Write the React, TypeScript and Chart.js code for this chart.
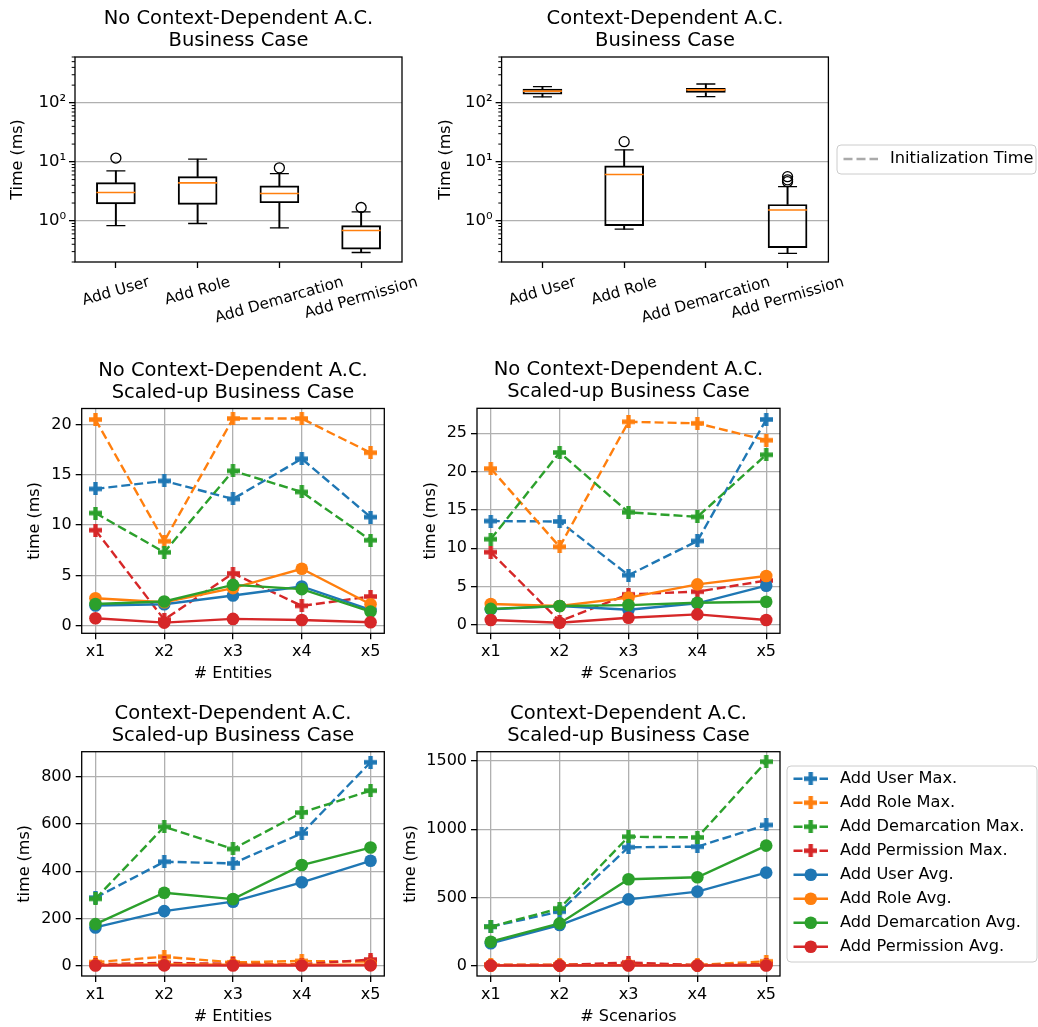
import React, { useEffect, useRef } from 'react';
import { Chart, registerables } from 'chart.js';

Chart.register(...registerables);

const FAM = '"DejaVu Sans", sans-serif';
Chart.defaults.font.family = FAM;
Chart.defaults.font.size = 16;
Chart.defaults.color = '#000';

const BLUE = '#1f77b4';
const ORANGE = '#ff7f0e';
const GREEN = '#2ca02c';
const RED = '#d62728';
const GRID = '#b0b0b0';

// ---------------- Box plot data ----------------
const boxCategories = ['Add User', 'Add Role', 'Add Demarcation', 'Add Permission'];

const noCtxWhiskerLow = [0.83, 0.9, 0.76, 0.29];
const noCtxQ1 = [1.94, 1.89, 2.02, 0.33];
const noCtxMedian = [3.02, 4.4, 2.9, 0.685];
const noCtxQ3 = [4.46, 5.63, 3.92, 0.83];
const noCtxWhiskerHigh = [7.0, 11.1, 6.3, 1.42];
const noCtxFliers: [number, number][] = [[0, 11.6], [2, 7.9], [3, 1.68]];

const ctxWhiskerLow = [126, 0.72, 128, 0.28];
const ctxQ1 = [140, 0.83, 150, 0.35];
const ctxMedian = [158, 6.1, 166, 1.52];
const ctxQ3 = [171, 8.55, 177, 1.89];
const ctxWhiskerHigh = [189, 16, 209, 3.8];
const ctxFliers: [number, number][] = [[1, 22], [3, 4.6], [3, 4.95], [3, 5.6]];

const logMajorTicks = [1, 10, 100];
const logMinorTicks = [0.2, 0.3, 0.4, 0.5, 0.6, 0.7, 0.8, 0.9, 2, 3, 4, 5, 6, 7, 8, 9, 20, 30, 40, 50, 60, 70, 80, 90, 200, 300, 400, 500, 600];
const SUP: Record<number, string> = { 0: '\u2070', 1: '\u00B9', 2: '\u00B2' };

// ---------------- Line plot data ----------------
const scaleLabels = ['x1', 'x2', 'x3', 'x4', 'x5'];
const seriesNames = [
  'Add User Max.', 'Add Role Max.', 'Add Demarcation Max.', 'Add Permission Max.',
  'Add User Avg.', 'Add Role Avg.', 'Add Demarcation Avg.', 'Add Permission Avg.',
];

// No context-dependent A.C., scaled by entities
const noCtxEntUserMax = [13.6, 14.4, 12.6, 16.6, 10.8];
const noCtxEntRoleMax = [20.5, 8.4, 20.6, 20.6, 17.2];
const noCtxEntDemMax = [11.2, 7.3, 15.4, 13.3, 8.5];
const noCtxEntPermMax = [9.5, 0.6, 5.2, 1.97, 2.9];
const noCtxEntUserAvg = [2.0, 2.13, 3.0, 3.9, 1.57];
const noCtxEntRoleAvg = [2.73, 2.33, 3.73, 5.66, 2.13];
const noCtxEntDemAvg = [2.15, 2.4, 4.06, 3.63, 1.4];
const noCtxEntPermAvg = [0.74, 0.3, 0.67, 0.57, 0.34];

// No context-dependent A.C., scaled by scenarios
const noCtxScnUserMax = [13.56, 13.5, 6.5, 10.96, 26.8];
const noCtxScnRoleMax = [20.4, 10.2, 26.5, 26.3, 24.1];
const noCtxScnDemMax = [11.2, 22.5, 14.7, 14.1, 22.2];
const noCtxScnPermMax = [9.5, 0.5, 4.0, 4.35, 5.8];
const noCtxScnUserAvg = [2.04, 2.48, 2.0, 2.83, 5.13];
const noCtxScnRoleAvg = [2.74, 2.48, 3.57, 5.3, 6.39];
const noCtxScnDemAvg = [2.1, 2.48, 2.6, 2.9, 3.04];
const noCtxScnPermAvg = [0.65, 0.3, 0.95, 1.39, 0.65];

// Context-dependent A.C., scaled by entities
const ctxEntUserMax = [288, 440, 433, 560, 861];
const ctxEntRoleMax = [15, 38, 14, 20, 17];
const ctxEntDemMax = [283, 588, 494, 648, 741];
const ctxEntPermMax = [6, 12, 8, 6, 26];
const ctxEntUserAvg = [162, 231, 271, 353, 444];
const ctxEntRoleAvg = [3, 5, 4, 4, 4];
const ctxEntDemAvg = [176, 309, 282, 426, 500];
const ctxEntPermAvg = [1, 1.5, 1, 1, 1.5];

// Context-dependent A.C., scaled by scenarios
const ctxScnUserMax = [286, 396, 868, 872, 1031];
const ctxScnRoleMax = [8, 8, 12, 6, 32];
const ctxScnDemMax = [286, 420, 945, 940, 1495];
const ctxScnPermMax = [5, 5, 24, 4, 12];
const ctxScnUserAvg = [164, 298, 486, 543, 682];
const ctxScnRoleAvg = [2, 3, 4, 3, 5];
const ctxScnDemAvg = [176, 310, 633, 648, 880];
const ctxScnPermAvg = [1, 1, 1.5, 1, 1.5];

const yTicksNoCtxEnt = [0, 5, 10, 15, 20];
const yTicksNoCtxScn = [0, 5, 10, 15, 20, 25];
const yTicksCtxEnt = [0, 200, 400, 600, 800];
const yTicksCtxScn = [0, 500, 1000, 1500];

// ---------------- helpers ----------------
function plusMarker(color: string, size = 13) {
  const c = document.createElement('canvas');
  c.width = size;
  c.height = size;
  const g = c.getContext('2d')!;
  const h = size / 2;
  const a = size / 6;
  g.fillStyle = color;
  g.beginPath();
  g.rect(0, h - a, size, 2 * a);
  g.rect(h - a, 0, 2 * a, size);
  g.fill('nonzero');
  return c;
}

type Box = { x: number; y: number; w: number; h: number };
type Area = { l: number; t: number; r: number; b: number };

function pad(c: Box, a: Area, yW: number, xH: number) {
  return {
    left: a.l - c.x - yW,
    top: a.t - c.y,
    right: c.x + c.w - a.r,
    bottom: c.y + c.h - a.b - xH,
  };
}

type LegendCfg = { dx: number; dy: number; w: number; h: number; first: number; row: number; items: number[] };
type Decor = {
  title: string[];
  yTitle: string;
  yTitleDx: number;
  xTitle?: string;
  rotLabels?: string[];
  minorTicks?: number[];
  legend?: LegendCfg;
};

function makeDecor(d: Decor) {
  return {
    id: 'decor',
    afterDraw(chart: any) {
      const ctx: CanvasRenderingContext2D = chart.ctx;
      const a = chart.chartArea;
      ctx.save();
      ctx.setLineDash([]);
      // frame (spines)
      ctx.strokeStyle = '#000';
      ctx.lineWidth = 1.3;
      ctx.strokeRect(a.left, a.top, a.right - a.left, a.bottom - a.top);
      // minor ticks
      if (d.minorTicks) {
        const ys = chart.scales.y;
        ctx.lineWidth = 1;
        ctx.beginPath();
        d.minorTicks.forEach((v) => {
          const y = ys.getPixelForValue(v);
          ctx.moveTo(a.left - 3.3, y);
          ctx.lineTo(a.left, y);
        });
        ctx.stroke();
      }
      ctx.fillStyle = '#000';
      ctx.textAlign = 'center';
      ctx.textBaseline = 'middle';
      const cx = (a.left + a.right) / 2;
      // title
      ctx.font = `19.5px ${FAM}`;
      d.title.forEach((t, i) => ctx.fillText(t, cx, a.top - 38 + i * 22));
      // y title
      ctx.font = `16px ${FAM}`;
      ctx.save();
      ctx.translate(a.left - d.yTitleDx, (a.top + a.bottom) / 2);
      ctx.rotate(-Math.PI / 2);
      ctx.fillText(d.yTitle, 0, 0);
      ctx.restore();
      // x title
      if (d.xTitle) ctx.fillText(d.xTitle, cx, a.bottom + 41);
      // rotated category labels
      if (d.rotLabels) {
        const xs = chart.scales.x;
        const th = (16 * Math.PI) / 180;
        const fs = 15.3;
        ctx.font = `${fs}px ${FAM}`;
        d.rotLabels.forEach((lab, i) => {
          const w = ctx.measureText(lab).width;
          const bh = w * Math.sin(th) + fs * 1.17 * Math.cos(th);
          const px = xs.getPixelForValue(i);
          ctx.save();
          ctx.translate(px, a.bottom + 11.4 + bh / 2);
          ctx.rotate(-th);
          ctx.fillText(lab, 0, 0);
          ctx.restore();
        });
      }
      // legend
      if (d.legend) {
        const L = d.legend;
        const bx = a.right + L.dx;
        const by = a.top + L.dy;
        ctx.beginPath();
        const r = 4;
        ctx.moveTo(bx + r, by);
        ctx.lineTo(bx + L.w - r, by);
        ctx.arcTo(bx + L.w, by, bx + L.w, by + r, r);
        ctx.lineTo(bx + L.w, by + L.h - r);
        ctx.arcTo(bx + L.w, by + L.h, bx + L.w - r, by + L.h, r);
        ctx.lineTo(bx + r, by + L.h);
        ctx.arcTo(bx, by + L.h, bx, by + L.h - r, r);
        ctx.lineTo(bx, by + r);
        ctx.arcTo(bx, by, bx + r, by, r);
        ctx.closePath();
        ctx.fillStyle = 'rgba(255,255,255,0.8)';
        ctx.fill();
        ctx.strokeStyle = '#cccccc';
        ctx.lineWidth = 1;
        ctx.stroke();
        ctx.font = `16.2px ${FAM}`;
        ctx.textAlign = 'left';
        L.items.forEach((idx, k) => {
          const ds = chart.data.datasets[idx];
          const y = by + L.first + k * L.row;
          const x0 = bx + 6.5;
          const x1 = bx + 41;
          ctx.strokeStyle = ds.borderColor;
          ctx.lineWidth = ds.borderWidth || 2.4;
          ctx.setLineDash(ds.borderDash || []);
          ctx.beginPath();
          ctx.moveTo(x0, y);
          ctx.lineTo(x1, y);
          ctx.stroke();
          ctx.setLineDash([]);
          const mx = (x0 + x1) / 2;
          const ps = ds.pointStyle;
          if (ps && typeof ps === 'object') {
            ctx.drawImage(ps, mx - ps.width / 2, y - ps.height / 2);
          } else if (ps === 'circle' && ds.pointRadius > 0) {
            ctx.fillStyle = ds.pointBackgroundColor;
            ctx.beginPath();
            ctx.arc(mx, y, ds.pointRadius, 0, Math.PI * 2);
            ctx.fill();
          }
          ctx.fillStyle = '#000';
          ctx.fillText(ds.label, bx + 53, y);
        });
      }
      ctx.restore();
    },
  };
}

const commonOptions = (padding: any) => ({
  responsive: false,
  maintainAspectRatio: false,
  animation: false as const,
  devicePixelRatio: 1,
  events: [] as any[],
  layout: { padding },
  plugins: {
    legend: { display: false },
    tooltip: { enabled: false },
    title: { display: false },
  },
});

// ---------------- Box plot config ----------------
function boxConfig(p: {
  canvas: Box; area: Area; title: string[]; yTitleDx: number;
  wl: number[]; q1: number[]; med: number[]; q3: number[]; wh: number[]; fliers: [number, number][];
  initLegend?: boolean;
}) {
  const datasets: any[] = [
    {
      type: 'bar', data: p.q1.map((v, i) => [v, p.q3[i]]),
      backgroundColor: 'rgba(0,0,0,0)', borderColor: '#000', borderWidth: 1.3,
      borderSkipped: false, barThickness: 39, grouped: false, order: 6,
    },
    {
      type: 'bar', data: p.wl.map((v, i) => [v, p.q1[i]]),
      backgroundColor: '#000', borderWidth: 0, barThickness: 1.3, grouped: false, order: 7,
    },
    {
      type: 'bar', data: p.q3.map((v, i) => [v, p.wh[i]]),
      backgroundColor: '#000', borderWidth: 0, barThickness: 1.3, grouped: false, order: 7,
    },
    {
      type: 'line', data: p.wl, showLine: false, pointStyle: 'line', pointRadius: 9.5,
      pointBorderColor: '#000', pointBorderWidth: 1.3, order: 5,
    },
    {
      type: 'line', data: p.wh, showLine: false, pointStyle: 'line', pointRadius: 9.5,
      pointBorderColor: '#000', pointBorderWidth: 1.3, order: 5,
    },
    {
      type: 'line', data: p.med, showLine: false, pointStyle: 'line', pointRadius: 19.5,
      pointBorderColor: ORANGE, pointBorderWidth: 1.6, order: 3,
    },
    {
      type: 'line', data: p.fliers.map(([i, v]) => ({ x: boxCategories[i], y: v })),
      showLine: false, pointStyle: 'circle', pointRadius: 5,
      pointBackgroundColor: 'rgba(0,0,0,0)', pointBorderColor: '#000', pointBorderWidth: 1.3, order: 2,
    },
  ];
  let legend: LegendCfg | undefined;
  if (p.initLegend) {
    datasets.push({
      type: 'line', label: 'Initialization Time', data: [], borderColor: '#aaaaaa',
      borderDash: [9, 4], borderWidth: 2.4, pointRadius: 0, order: 1,
    });
    legend = { dx: 8.6, dy: 88, w: 199, h: 29, first: 14, row: 24, items: [datasets.length - 1] };
  }
  const yW = 60, xH = 70;
  return {
    type: 'bar',
    data: { labels: boxCategories, datasets },
    options: {
      ...commonOptions(pad(p.canvas, p.area, yW, xH)),
      scales: {
        x: {
          type: 'category', offset: true,
          grid: { display: true, drawOnChartArea: false, offset: false, tickLength: 6, tickColor: '#000', tickWidth: 1.3, color: '#000' },
          ticks: { display: false },
          border: { display: false },
          afterFit: (s: any) => { s.height = xH; },
        },
        y: {
          type: 'logarithmic', min: 0.2, max: 600,
          afterBuildTicks: (s: any) => { s.ticks = logMajorTicks.map((v) => ({ value: v })); },
          ticks: {
            autoSkip: false, padding: 3, font: { size: 16.5 },
            callback: (v: any) => '10' + SUP[Math.round(Math.log10(Number(v)))],
          },
          grid: { color: GRID, lineWidth: 1.3, tickColor: '#000', tickLength: 6, tickWidth: 1.3 },
          border: { display: false },
          afterFit: (s: any) => { s.width = yW; },
        },
      },
    },
    plugins: [makeDecor({
      title: p.title, yTitle: 'Time (ms)', yTitleDx: p.yTitleDx,
      rotLabels: boxCategories, minorTicks: logMinorTicks, legend,
    })],
  };
}

// ---------------- Line plot config ----------------
function lineConfig(p: {
  canvas: Box; area: Area; title: string[]; yTitleDx: number; yW: number;
  series: number[][]; yMin: number; yMax: number; yTicks: number[]; xTitle: string; legend?: boolean;
}) {
  const colors = [BLUE, ORANGE, GREEN, RED, BLUE, ORANGE, GREEN, RED];
  const datasets = p.series.map((arr, i) => {
    const isMax = i < 4;
    return {
      label: seriesNames[i],
      data: arr.map((v, k) => ({ x: k, y: v })),
      borderColor: colors[i],
      backgroundColor: colors[i],
      borderWidth: 2.4,
      borderDash: isMax ? [9, 4] : [],
      pointStyle: isMax ? plusMarker(colors[i]) : 'circle',
      pointRadius: isMax ? 6.5 : 6.3,
      pointBorderWidth: 0,
      pointBackgroundColor: colors[i],
      tension: 0,
      fill: false,
      order: 8 - i,
    };
  });
  const xH = 40;
  const gridOpts = { color: GRID, lineWidth: 1.3, tickColor: '#000', tickLength: 6, tickWidth: 1.3 };
  return {
    type: 'line',
    data: { datasets },
    options: {
      ...commonOptions(pad(p.canvas, p.area, p.yW, xH)),
      scales: {
        x: {
          type: 'linear', min: -0.2, max: 4.2,
          afterBuildTicks: (s: any) => { s.ticks = scaleLabels.map((_, k) => ({ value: k })); },
          ticks: { autoSkip: false, maxRotation: 0, padding: 3, callback: (v: any) => scaleLabels[Math.round(Number(v))] ?? '' },
          grid: gridOpts,
          border: { display: false },
          afterFit: (s: any) => { s.height = xH; },
        },
        y: {
          type: 'linear', min: p.yMin, max: p.yMax,
          afterBuildTicks: (s: any) => { s.ticks = p.yTicks.map((v) => ({ value: v })); },
          ticks: { autoSkip: false, padding: 4, callback: (v: any) => String(v) },
          grid: gridOpts,
          border: { display: false },
          afterFit: (s: any) => { s.width = p.yW; },
        },
      },
    },
    plugins: [makeDecor({
      title: p.title, yTitle: 'time (ms)', yTitleDx: p.yTitleDx, xTitle: p.xTitle,
      legend: p.legend ? { dx: 7, dy: 14.3, w: 250, h: 196, first: 12.7, row: 24, items: [0, 1, 2, 3, 4, 5, 6, 7] } : undefined,
    })],
  };
}

// ---------------- panels ----------------
type Panel = { canvas: Box; build: () => any };

const panels: Panel[] = [
  {
    canvas: { x: 0, y: 0, w: 430, h: 340 },
    build: () => boxConfig({
      canvas: { x: 0, y: 0, w: 430, h: 340 }, area: { l: 75, t: 57, r: 402, b: 262 },
      title: ['No Context-Dependent A.C.', 'Business Case'], yTitleDx: 56.7,
      wl: noCtxWhiskerLow, q1: noCtxQ1, med: noCtxMedian, q3: noCtxQ3, wh: noCtxWhiskerHigh, fliers: noCtxFliers,
    }),
  },
  {
    canvas: { x: 420, y: 0, w: 618, h: 340 },
    build: () => boxConfig({
      canvas: { x: 420, y: 0, w: 618, h: 340 }, area: { l: 501.6, t: 57, r: 828.4, b: 262 },
      title: ['Context-Dependent A.C.', 'Business Case'], yTitleDx: 56,
      wl: ctxWhiskerLow, q1: ctxQ1, med: ctxMedian, q3: ctxQ3, wh: ctxWhiskerHigh, fliers: ctxFliers,
      initLegend: true,
    }),
  },
  {
    canvas: { x: 0, y: 340, w: 400, h: 345 },
    build: () => lineConfig({
      canvas: { x: 0, y: 340, w: 400, h: 345 }, area: { l: 81.7, t: 408.5, r: 384.3, b: 633.3 },
      title: ['No Context-Dependent A.C.', 'Scaled-up Business Case'], yTitleDx: 46.7, yW: 50,
      series: [noCtxEntUserMax, noCtxEntRoleMax, noCtxEntDemMax, noCtxEntPermMax, noCtxEntUserAvg, noCtxEntRoleAvg, noCtxEntDemAvg, noCtxEntPermAvg],
      yMin: -0.76, yMax: 21.6, yTicks: yTicksNoCtxEnt, xTitle: '# Entities',
    }),
  },
  {
    canvas: { x: 400, y: 340, w: 400, h: 345 },
    build: () => lineConfig({
      canvas: { x: 400, y: 340, w: 400, h: 345 }, area: { l: 477, t: 408.3, r: 780, b: 633.3 },
      title: ['No Context-Dependent A.C.', 'Scaled-up Business Case'], yTitleDx: 46.3, yW: 50,
      series: [noCtxScnUserMax, noCtxScnRoleMax, noCtxScnDemMax, noCtxScnPermMax, noCtxScnUserAvg, noCtxScnRoleAvg, noCtxScnDemAvg, noCtxScnPermAvg],
      yMin: -1.08, yMax: 28.26, yTicks: yTicksNoCtxScn, xTitle: '# Scenarios',
    }),
  },
  {
    canvas: { x: 0, y: 685, w: 400, h: 342 },
    build: () => lineConfig({
      canvas: { x: 0, y: 685, w: 400, h: 342 }, area: { l: 81.7, t: 751.7, r: 384.3, b: 976 },
      title: ['Context-Dependent A.C.', 'Scaled-up Business Case'], yTitleDx: 56.7, yW: 60,
      series: [ctxEntUserMax, ctxEntRoleMax, ctxEntDemMax, ctxEntPermMax, ctxEntUserAvg, ctxEntRoleAvg, ctxEntDemAvg, ctxEntPermAvg],
      yMin: -43.6, yMax: 905.8, yTicks: yTicksCtxEnt, xTitle: '# Entities',
    }),
  },
  {
    canvas: { x: 400, y: 685, w: 638, h: 342 },
    build: () => lineConfig({
      canvas: { x: 400, y: 685, w: 638, h: 342 }, area: { l: 477, t: 751.7, r: 780, b: 976 },
      title: ['Context-Dependent A.C.', 'Scaled-up Business Case'], yTitleDx: 66.3, yW: 60,
      series: [ctxScnUserMax, ctxScnRoleMax, ctxScnDemMax, ctxScnPermMax, ctxScnUserAvg, ctxScnRoleAvg, ctxScnDemAvg, ctxScnPermAvg],
      yMin: -75.5, yMax: 1568, yTicks: yTicksCtxScn, xTitle: '# Scenarios', legend: true,
    }),
  },
];

function ChartCanvas({ panel }: { panel: Panel }) {
  const ref = useRef<HTMLCanvasElement>(null);
  useEffect(() => {
    const chart = new Chart(ref.current as HTMLCanvasElement, panel.build());
    return () => chart.destroy();
  }, [panel]);
  const c = panel.canvas;
  return (
    <canvas
      ref={ref}
      width={c.w}
      height={c.h}
      style={{ position: 'absolute', left: c.x, top: c.y, width: c.w, height: c.h }}
    />
  );
}

export default function App() {
  return (
    <div style={{ position: 'absolute', left: 0, top: 0, width: 1038, height: 1027, background: '#fff', overflow: 'hidden' }}>
      {panels.map((p, i) => (
        <ChartCanvas key={i} panel={p} />
      ))}
    </div>
  );
}
